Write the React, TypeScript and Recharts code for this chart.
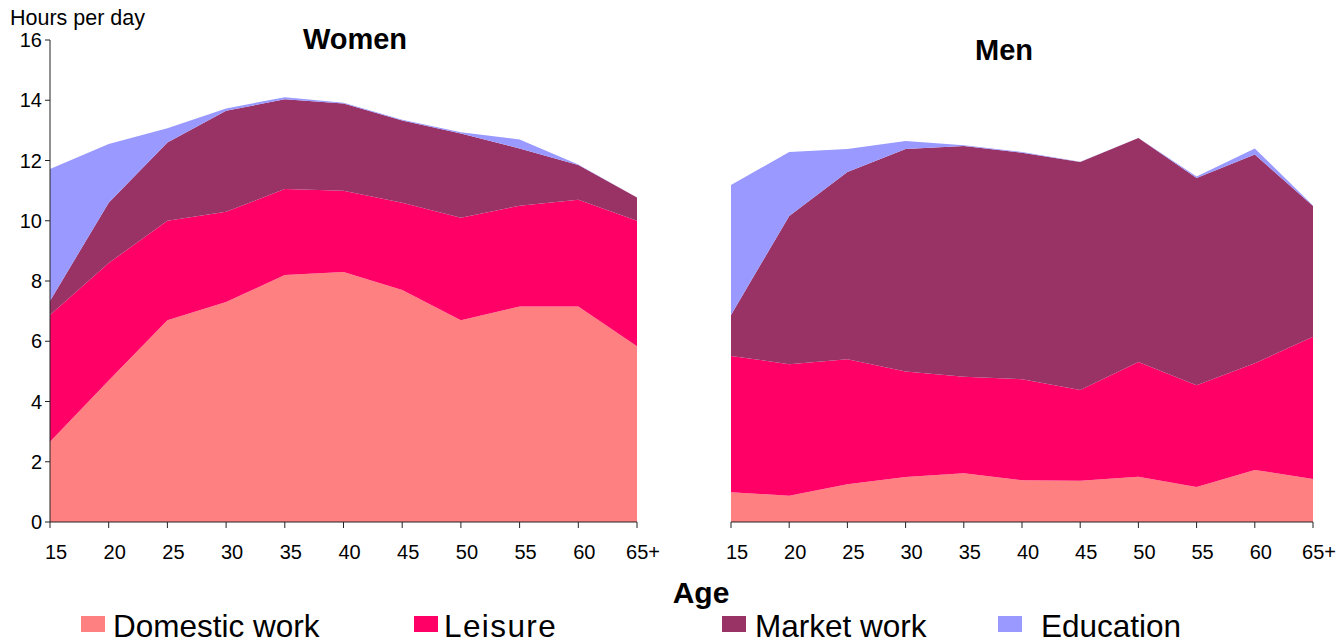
import React from 'react';
import { AreaChart, Area, XAxis, YAxis } from 'recharts';

const ages = ['15', '20', '25', '30', '35', '40', '45', '50', '55', '60', '65+'];
const yTicks = [0, 2, 4, 6, 8, 10, 12, 14, 16];

const womenDomestic = [2.66, 4.7, 6.7, 7.3, 8.2, 8.3, 7.7, 6.7, 7.15, 7.15, 5.83];
const womenLeisure = [4.21, 3.9, 3.3, 3.0, 2.85, 2.7, 2.9, 3.4, 3.35, 3.55, 4.17];
const womenMarket = [0.47, 2.0, 2.6, 3.35, 2.98, 2.89, 2.73, 2.8, 1.9, 1.15, 0.77];
const womenEducation = [4.38, 1.95, 0.47, 0.08, 0.07, 0.03, 0.02, 0.04, 0.3, 0.02, 0.0];

const menDomestic = [0.99, 0.87, 1.25, 1.49, 1.62, 1.39, 1.37, 1.5, 1.16, 1.73, 1.43];
const menLeisure = [4.52, 4.37, 4.15, 3.51, 3.2, 3.35, 3.01, 3.81, 3.38, 3.54, 4.72];
const menMarket = [1.36, 4.92, 6.22, 7.38, 7.66, 7.52, 7.57, 7.44, 6.88, 6.93, 4.34];
const menEducation = [4.32, 2.12, 0.76, 0.27, 0.03, 0.02, 0.01, 0.0, 0.05, 0.2, 0.02];

const seriesKeys = ['domestic', 'leisure', 'market', 'education'];
const seriesNames = ['Domestic work', 'Leisure', 'Market work', 'Education'];
const seriesColors: Record<string, string> = {
  domestic: '#FF8080',
  leisure: '#FF0066',
  market: '#993366',
  education: '#9999FF',
};

const womenData = ages.map((age, i) => ({
  age,
  domestic: womenDomestic[i],
  leisure: womenLeisure[i],
  market: womenMarket[i],
  education: womenEducation[i],
}));

const menData = ages.map((age, i) => ({
  age,
  domestic: menDomestic[i],
  leisure: menLeisure[i],
  market: menMarket[i],
  education: menEducation[i],
}));

const XTick = (props: any) => {
  const { x, y, payload } = props;
  return (
    <text x={x + 6} y={y} dy="0.71em" textAnchor="middle" fontSize={20} fill="#000">
      {payload.value}
    </text>
  );
};

const Panel = ({ data, showY, margin }: { data: any[]; showY: boolean; margin: any }) => (
  <AreaChart width={660} height={644} data={data} margin={margin}>
    <XAxis
      dataKey="age"
      interval={0}
      height={30}
      tickSize={6}
      tickMargin={17}
      axisLine={{ stroke: '#222' }}
      tickLine={{ stroke: '#222' }}
      tick={<XTick />}
    />
    <YAxis
      domain={[0, 16]}
      ticks={yTicks}
      width={50}
      hide={!showY}
      tickSize={5}
      tickMargin={3}
      axisLine={{ stroke: '#222' }}
      tickLine={{ stroke: '#222' }}
      tick={{ fontSize: 20, fill: '#000' }}
      allowDataOverflow
    />
    {seriesKeys.map((k, i) => (
      <Area
        key={k}
        type="linear"
        dataKey={k}
        name={seriesNames[i]}
        stackId="a"
        stroke="none"
        fill={seriesColors[k]}
        fillOpacity={1}
        isAnimationActive={false}
        dot={false}
        activeDot={false}
      />
    ))}
  </AreaChart>
);

const legendSquareX = [81, 414, 722, 998];
const legendTextX = [113, 444, 755, 1041];
const legendSpacing = [0, 1.4, 0, 0];

export default function App() {
  return (
    <div
      style={{
        position: 'absolute',
        left: 0,
        top: 0,
        width: 1341,
        height: 644,
        background: '#fff',
        fontFamily: '"Liberation Sans", Arial, sans-serif',
        overflow: 'hidden',
      }}
    >
      <div style={{ position: 'absolute', left: 0, top: 0 }}>
        <Panel data={womenData} showY={true} margin={{ top: 40, right: 23, left: 0, bottom: 92 }} />
      </div>
      <div style={{ position: 'absolute', left: 681, top: 0 }}>
        <Panel data={menData} showY={false} margin={{ top: 40, right: 28, left: 50, bottom: 92 }} />
      </div>
      <svg
        width={1341}
        height={644}
        style={{ position: 'absolute', left: 0, top: 0, pointerEvents: 'none' }}
      >
        <text x={10} y={24.5} fontSize={21.5} fill="#000">Hours per day</text>
        <text x={355} y={49} fontSize={29} fontWeight="bold" textAnchor="middle" fill="#000">Women</text>
        <text x={1004} y={60} fontSize={29} fontWeight="bold" textAnchor="middle" fill="#000">Men</text>
        <text x={701} y={603} fontSize={30} fontWeight="bold" textAnchor="middle" fill="#000">Age</text>
        {seriesKeys.map((k, i) => (
          <g key={k}>
            <rect x={legendSquareX[i]} y={616} width={24} height={16} fill={seriesColors[k]} />
            <text
              x={legendTextX[i]}
              y={637}
              fontSize={31.5}
              letterSpacing={legendSpacing[i]}
              fill="#000"
            >
              {seriesNames[i]}
            </text>
          </g>
        ))}
      </svg>
    </div>
  );
}
